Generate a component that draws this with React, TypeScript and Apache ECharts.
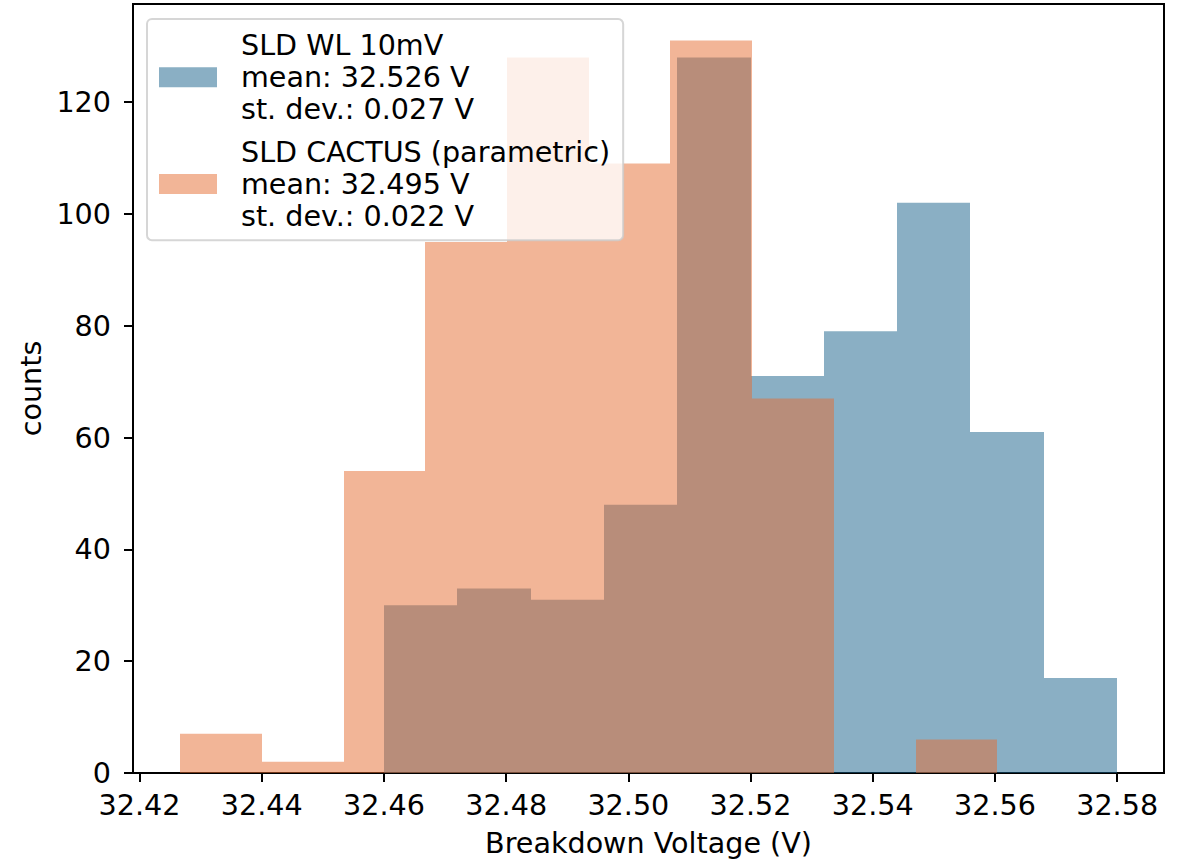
import React, { useEffect, useRef } from "react";
import * as echarts from "echarts";

// ---- data ----
const seriesNames = ["SLD WL 10mV", "SLD CACTUS (parametric)"];
const seriesMeans = ["32.526", "32.495"];
const seriesStdDevs = ["0.027", "0.022"];

const wlBinEdges = [32.46, 32.472, 32.484, 32.496, 32.508, 32.52, 32.532, 32.544, 32.556, 32.568, 32.58];
const wlCounts = [30, 33, 31, 48, 128, 71, 79, 102, 61, 17];

const cactusBinEdges = [32.4266, 32.44, 32.4534, 32.4667, 32.4801, 32.4935, 32.5069, 32.5203, 32.5336, 32.547, 32.5604];
const cactusCounts = [7, 2, 54, 95, 128, 109, 131, 67, 0, 6];

const xTickValues = [32.42, 32.44, 32.46, 32.48, 32.5, 32.52, 32.54, 32.56, 32.58];
const yTickValues = [0, 20, 40, 60, 80, 100, 120];
const xRange = [32.41893, 32.58767];
const yRange = [0, 137.55];

const xAxisTitle = "Breakdown Voltage (V)";
const yAxisTitle = "counts";

// ---- styling ----
const FONT = "DejaVu Sans";
const FS = 28.6;
const wlColor = "rgba(21,95,137,0.5)";
const cactusColor = "rgba(229,107,47,0.5)";

function toBins(edges: number[], counts: number[]) {
  return counts.map((c, i) => [edges[i], edges[i + 1], c]);
}

function histSeries(name: string, data: number[][], color: string, z: number) {
  return {
    type: "custom",
    name,
    z,
    itemStyle: { color },
    encode: { x: [0, 1], y: 2 },
    data,
    renderItem: (params: any, api: any) => {
      const x0 = api.value(0);
      const x1 = api.value(1);
      const c = api.value(2);
      const p0 = api.coord([x0, c]);
      const p1 = api.coord([x1, 0]);
      const left = Math.round(p0[0]);
      const right = Math.round(p1[0]);
      return {
        type: "rect",
        shape: { x: left, y: p0[1], width: right - left, height: p1[1] - p0[1] },
        style: { fill: color },
      };
    },
  };
}

export default function App() {
  const ref = useRef<HTMLDivElement>(null);

  useEffect(() => {
    if (!ref.current) return;
    const chart = echarts.init(ref.current, undefined, { renderer: "svg" });
    const option: any = {
      animation: false,
      backgroundColor: "#ffffff",
      textStyle: { fontFamily: FONT, color: "#000" },
      grid: {
        left: 133,
        top: 4,
        width: 1031,
        height: 769,
        show: true,
        borderColor: "#000",
        borderWidth: 2,
        backgroundColor: "transparent",
        containLabel: false,
        outerBoundsMode: "none",
      },
      legend: {
        orient: "vertical",
        left: 147,
        top: 19,
        padding: [10, 13, 8, 12],
        itemGap: 10,
        itemWidth: 58,
        itemHeight: 20,
        icon: "rect",
        selectedMode: false,
        backgroundColor: "rgba(255,255,255,0.8)",
        borderColor: "rgba(204,204,204,0.8)",
        borderWidth: 2,
        borderRadius: 5,
        data: seriesNames,
        formatter: (name: string) => {
          const i = seriesNames.indexOf(name);
          return `${name}\nmean: ${seriesMeans[i]} V\nst. dev.: ${seriesStdDevs[i]} V`;
        },
        textStyle: {
          fontFamily: FONT,
          fontSize: FS,
          lineHeight: 32.2,
          color: "#000",
          padding: [0, 0, 0, 19],
        },
      },
      xAxis: {
        type: "value",
        min: xRange[0],
        max: xRange[1],
        name: xAxisTitle,
        nameLocation: "middle",
        nameGap: 55,
        nameTextStyle: { fontFamily: FONT, fontSize: FS, color: "#000" },
        axisLine: { show: true, lineStyle: { color: "#000", width: 2 } },
        axisTick: {
          show: true,
          length: 9,
          lineStyle: { color: "#000", width: 2 },
          customValues: xTickValues,
        },
        axisLabel: {
          fontFamily: FONT,
          fontSize: FS,
          color: "#000",
          margin: 17,
          customValues: xTickValues,
          formatter: (v: number) => v.toFixed(2),
        },
        splitLine: { show: false },
      },
      yAxis: {
        type: "value",
        min: yRange[0],
        max: yRange[1],
        name: yAxisTitle,
        nameLocation: "middle",
        nameGap: 88,
        nameTextStyle: { fontFamily: FONT, fontSize: FS, color: "#000" },
        axisLine: { show: true, lineStyle: { color: "#000", width: 2 } },
        axisTick: {
          show: true,
          length: 9,
          lineStyle: { color: "#000", width: 2 },
          customValues: yTickValues,
        },
        axisLabel: {
          fontFamily: FONT,
          fontSize: FS,
          color: "#000",
          margin: 22,
          customValues: yTickValues,
          formatter: (v: number) => String(Math.round(v)),
        },
        splitLine: { show: false },
      },
      series: [
        histSeries(seriesNames[0], toBins(wlBinEdges, wlCounts), wlColor, 2),
        histSeries(seriesNames[1], toBins(cactusBinEdges, cactusCounts), cactusColor, 3),
      ],
    };
    chart.setOption(option);
    return () => chart.dispose();
  }, []);

  return (
    <div
      ref={ref}
      style={{ position: "fixed", left: 0, top: 0, width: 1187, height: 862, background: "#fff" }}
    />
  );
}
